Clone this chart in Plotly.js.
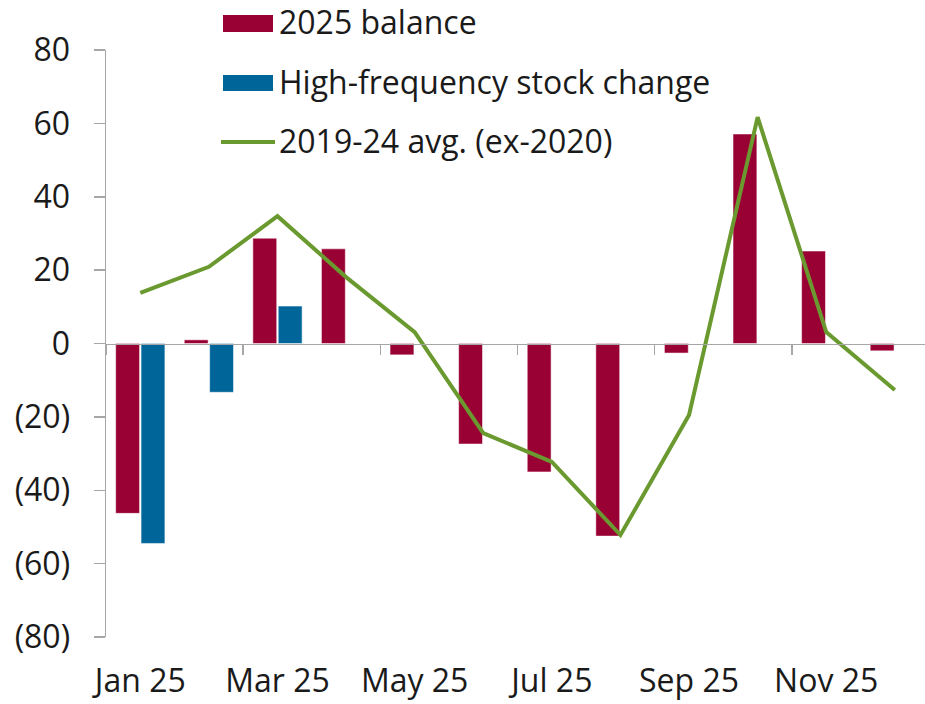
<!DOCTYPE html>
<html>
<head>
<meta charset="utf-8">
<script src="https://cdn.plot.ly/plotly-3.0.1.min.js"></script>
<style>
  html, body { margin: 0; padding: 0; background: #ffffff; }
  #chart { width: 925px; height: 704px; }
</style>
</head>
<body>
<div id="chart"></div>
<script>
// ---- Data ----
const months = ['Jan 25', 'Feb 25', 'Mar 25', 'Apr 25', 'May 25', 'Jun 25',
                'Jul 25', 'Aug 25', 'Sep 25', 'Oct 25', 'Nov 25', 'Dec 25'];
const balance2025 = [-46.3, 1.0, 28.7, 25.8, -3.1, -27.4, -35.0, -52.5, -2.6, 57.1, 25.2, -2.0];
const highFreqChange = [-54.5, -13.3, 10.2, null, null, null, null, null, null, null, null, null];
const avg2019to24 = [13.8, 20.9, 34.7, 18.1, 3.1, -24.4, -32.3, -52.2, -19.5, 61.7, 3.1, -12.7];
const seriesNames = ['2025 balance', 'High-frequency stock change', '2019-24 avg. (ex-2020)'];
const yTickVals = [80, 60, 40, 20, 0, -20, -40, -60, -80];
const yTickText = ['80', '60', '40', '20', '0', '(20)', '(40)', '(60)', '(80)'];

// ---- Styling ----
const RED = '#990033', BLUE = '#006699', GREEN = '#6a9a2f';
const AXIS = '#a6a6a6', TXT = '#1a1a1a';
const FONT = 'Open Sans, Noto Sans, sans-serif';
const FS = 32;

const W = 925, H = 704;
const M = {l: 106, r: 0, t: 50, b: 67};
const xRange = [-0.5, 11.44];

const traces = [
  {
    type: 'bar', name: seriesNames[0], x: months, y: balance2025,
    marker: {color: RED, line: {color: 'rgba(255,255,255,0.5)', width: 1}},
    showlegend: false, hoverinfo: 'x+y'
  },
  {
    type: 'bar', name: seriesNames[1], x: months, y: highFreqChange,
    marker: {color: BLUE, line: {color: 'rgba(255,255,255,0.5)', width: 1}},
    showlegend: false, hoverinfo: 'x+y'
  },
  {
    // empty helper trace so the zero-line axis (xaxis2) is drawn
    type: 'scatter', mode: 'none', x: [], y: [], xaxis: 'x2', yaxis: 'y',
    showlegend: false, hoverinfo: 'skip'
  },
  {
    type: 'scatter', mode: 'lines', name: seriesNames[2], x: months, y: avg2019to24,
    line: {color: GREEN, width: 4}, showlegend: false, hoverinfo: 'x+y'
  }
];

// custom legend (positions in pixels -> paper)
const plotW = W - M.l - M.r, plotH = H - M.t - M.b;
const px = v => (v - M.l) / plotW;
const py = v => (H - M.b - v) / plotH;
const legendRows = [22, 81, 140];
const shapes = [
  {type: 'rect', xref: 'paper', yref: 'paper', x0: px(223), x1: px(273), y0: py(32), y1: py(15),
   fillcolor: RED, line: {width: 0}},
  {type: 'rect', xref: 'paper', yref: 'paper', x0: px(223), x1: px(273), y0: py(91), y1: py(75),
   fillcolor: BLUE, line: {width: 0}},
  {type: 'line', xref: 'paper', yref: 'paper', x0: px(221), x1: px(275), y0: py(142), y1: py(142),
   line: {color: GREEN, width: 4}}
];
const annotations = seriesNames.map((n, i) => ({
  text: n, xref: 'paper', yref: 'paper', x: px(277), y: py(legendRows[i]),
  xanchor: 'left', yanchor: 'middle', showarrow: false,
  font: {family: FONT, size: FS, color: TXT}
}));

const boundaryTicks = months.map((m, i) => i - 0.5).filter((v, i) => i % 2 === 0);

const layout = {
  width: W, height: H,
  margin: M,
  paper_bgcolor: '#ffffff', plot_bgcolor: '#ffffff',
  font: {family: FONT, size: FS, color: TXT},
  barmode: 'group', bargap: 0.26, bargroupgap: 0.06,
  showlegend: false,
  xaxis: {
    type: 'category', categoryarray: months, range: xRange,
    tickmode: 'linear', tick0: 0, dtick: 2,
    ticks: '', showline: false, showgrid: false, zeroline: false,
    ticklabelstandoff: 22,
    tickfont: {family: FONT, size: FS, color: TXT}
  },
  xaxis2: {
    overlaying: 'x', anchor: 'free', position: 0.5, type: 'linear', range: xRange,
    tickmode: 'array', tickvals: boundaryTicks, showticklabels: false,
    ticks: 'outside', ticklen: 10, tickwidth: 1.5, tickcolor: AXIS,
    showline: true, linecolor: AXIS, linewidth: 1.5,
    showgrid: false, zeroline: false, fixedrange: true
  },
  yaxis: {
    range: [-80, 80], tickmode: 'array', tickvals: yTickVals, ticktext: yTickText,
    ticks: 'outside', ticklen: 11, tickwidth: 1.5, tickcolor: AXIS,
    showline: true, linecolor: AXIS, linewidth: 1.5,
    showgrid: false, zeroline: false,
    ticklabelstandoff: 17,
    tickfont: {family: FONT, size: FS, color: TXT}
  },
  shapes: shapes,
  annotations: annotations
};

Plotly.newPlot('chart', traces, layout, {displayModeBar: false, staticPlot: true});
</script>
</body>
</html>
